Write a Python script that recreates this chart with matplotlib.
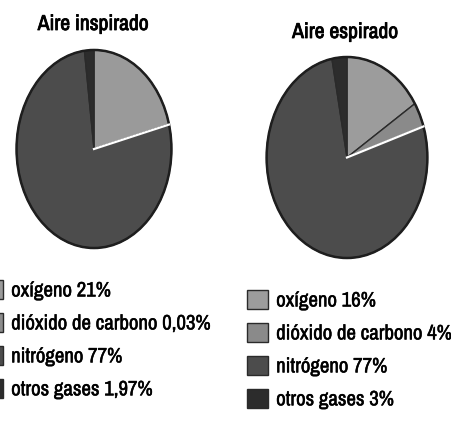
import numpy as np
import matplotlib.pyplot as plt
import matplotlib.patheffects as pe

# Composition of air (%)
gases = ["oxígeno", "dióxido de carbono", "nitrógeno", "otros gases"]
inspirado = [21, 0.03, 77, 1.97]
espirado = [16, 4, 77, 3]
inspirado_labels = ["21%", "0,03%", "77%", "1,97%"]
espirado_labels = ["16%", "4%", "77%", "3%"]

colors_insp = ["#9a9a9a", "#8c8c8c", "#4c4c4c", "#2c2c2c"]
colors_esp = ["#9c9c9c", "#8a8a8a", "#4c4c4c", "#2c2c2c"]

plt.rcParams['font.family'] = ['Archivo Narrow', 'DejaVu Sans']

W, H = 451, 421
fig = plt.figure(figsize=(W / 100, H / 100), dpi=100)
fig.patch.set_facecolor("white")


def pix_axes(x0, y0, x1, y1):
    return fig.add_axes([x0 / W, 1 - y1 / H, (x1 - x0) / W, (y1 - y0) / H])


def draw_pie(ax, values, colors):
    wedges, _ = ax.pie(values, colors=colors, startangle=90, counterclock=False,
                       radius=1, wedgeprops=dict(edgecolor="#2a2a2a", linewidth=1.0))
    # white highlight on the boundary between CO2 and nitrogen
    ang = np.deg2rad(90 - 360 * sum(values[:2]) / sum(values))
    ax.plot([0, np.cos(ang)], [0, np.sin(ang)], color="white", lw=1.6)
    ax.add_patch(plt.Circle((0, 0), 1, fill=False, ec="#1e1e1e", lw=1.8))
    ax.set_xlim(-1.02, 1.02)
    ax.set_ylim(-1.02, 1.02)
    ax.set_aspect("auto")
    ax.axis("off")
    return wedges


ax1 = pix_axes(15, 48, 173, 250)
w1 = draw_pie(ax1, inspirado, colors_insp)
ax2 = pix_axes(265, 55, 429, 260)
w2 = draw_pie(ax2, espirado, colors_esp)

title_fx = [pe.withStroke(linewidth=0.6, foreground="black")]
fig.text(93 / W, 1 - 24 / H, "Aire inspirado", ha="center", va="center",
         fontsize=15.5, path_effects=title_fx)
fig.text(345 / W, 1 - 32 / H, "Aire espirado", ha="center", va="center",
         fontsize=15.5, path_effects=title_fx)

leg_kw = dict(loc="upper left", frameon=False, fontsize=15, borderpad=0,
              borderaxespad=0, handlelength=1.0, handleheight=1.0,
              handletextpad=0.4, labelspacing=0.6)

leg1 = fig.legend(w1, [f"{g} {v}" for g, v in zip(gases, inspirado_labels)],
                  bbox_to_anchor=(-18 / W, 1 - 280 / H), **leg_kw)
leg2 = fig.legend(w2, [f"{g} {v}" for g, v in zip(gases, espirado_labels)],
                  bbox_to_anchor=(247 / W, 1 - 290 / H), **leg_kw)
for leg in (leg1, leg2):
    for t in leg.get_texts():
        t.set_path_effects([pe.withStroke(linewidth=0.35, foreground="black")])

fig.savefig("out.png", dpi=100)
